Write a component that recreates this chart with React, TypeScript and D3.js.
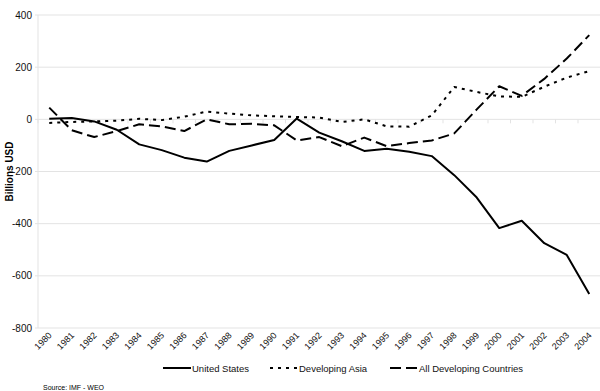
import React, { useEffect, useRef } from 'react';
import * as d3 from 'd3';

const years = d3.range(1980, 2005).map(String);
const unitedStates = [2, 5, -8, -40, -96, -118, -147, -162, -121, -100, -79, 3, -51, -84, -121, -113, -124, -141, -214, -300, -417, -389, -475, -520, -670];
const developingAsia = [-14, -10, -8, -5, 2, -3, 10, 30, 22, 15, 12, 9, 7, -10, 0, -27, -28, 15, 124, 105, 88, 86, 125, 160, 185];
const allDeveloping = [45, -42, -68, -45, -19, -27, -45, 0, -19, -17, -23, -81, -68, -103, -70, -103, -91, -81, -54, 38, 127, 90, 155, 233, 323];
const yTicks = [400, 200, 0, -200, -400, -600, -800];

const series = [
  { name: 'United States', values: unitedStates, dash: null },
  { name: 'Developing Asia', values: developingAsia, dash: '3,5' },
  { name: 'All Developing Countries', values: allDeveloping, dash: '11,5' },
];

const App = () => {
  const ref = useRef<SVGSVGElement>(null);

  useEffect(() => {
    const svg = d3.select(ref.current);
    svg.selectAll('*').remove();
    const font = '"Liberation Sans", Arial, sans-serif';

    const left = 38;
    const right = 600.5;
    const top = 15;
    const bottom = 328;

    const x = d3.scaleBand().domain(years).range([left, right]);
    const y = d3.scaleLinear().domain([-800, 400]).range([bottom, top]);

    // gridlines
    svg.append('g')
      .selectAll('line')
      .data(yTicks)
      .enter().append('line')
      .attr('x1', left)
      .attr('x2', right)
      .attr('y1', d => y(d))
      .attr('y2', d => y(d))
      .attr('stroke', '#e3e3e3')
      .attr('stroke-width', 1);

    // y axis line
    svg.append('line')
      .attr('x1', left).attr('x2', left)
      .attr('y1', top).attr('y2', bottom)
      .attr('stroke', '#e3e3e3');

    // y tick marks + labels
    const yAxis = svg.append('g');
    yAxis.selectAll('line')
      .data(yTicks)
      .enter().append('line')
      .attr('x1', left - 3).attr('x2', left)
      .attr('y1', d => y(d)).attr('y2', d => y(d))
      .attr('stroke', '#e3e3e3');
    yAxis.selectAll('text')
      .data(yTicks)
      .enter().append('text')
      .attr('x', left - 6)
      .attr('y', d => y(d) + 3.5)
      .attr('text-anchor', 'end')
      .attr('font-family', font)
      .attr('font-size', 10)
      .attr('fill', '#111')
      .text(d => d);

    // category tick marks on zero line
    svg.append('g')
      .selectAll('line')
      .data(years.concat(['end']))
      .enter().append('line')
      .attr('x1', (d, i) => left + i * x.bandwidth())
      .attr('x2', (d, i) => left + i * x.bandwidth())
      .attr('y1', y(0))
      .attr('y2', y(0) + 4)
      .attr('stroke', '#e3e3e3');

    // x labels
    svg.append('g')
      .selectAll('text')
      .data(years)
      .enter().append('text')
      .attr('transform', d => `translate(${x(d)! + x.bandwidth() / 2 + 3},${bottom + 8}) rotate(-45)`)
      .attr('text-anchor', 'end')
      .attr('font-family', font)
      .attr('font-size', 9)
      .attr('fill', '#111')
      .text(d => d);

    // y axis title
    svg.append('text')
      .attr('transform', `translate(13,${(top + bottom) / 2}) rotate(-90)`)
      .attr('text-anchor', 'middle')
      .attr('font-family', font)
      .attr('font-size', 10)
      .attr('font-weight', 'bold')
      .text('Billions USD');

    // lines
    const line = d3.line<number>()
      .x((d, i) => x(years[i])! + x.bandwidth() / 2)
      .y(d => y(d));

    series.forEach(s => {
      svg.append('path')
        .datum(s.values)
        .attr('d', line)
        .attr('fill', 'none')
        .attr('stroke', '#000')
        .attr('stroke-width', 2)
        .attr('stroke-dasharray', s.dash)
        .attr('stroke-linejoin', 'round');
    });

    // legend
    const legendX = [163, 270, 390];
    const legendY = 368;
    series.forEach((s, i) => {
      svg.append('line')
        .attr('x1', legendX[i]).attr('x2', legendX[i] + 28)
        .attr('y1', legendY).attr('y2', legendY)
        .attr('stroke', '#000')
        .attr('stroke-width', 2)
        .attr('stroke-dasharray', s.dash);
      svg.append('text')
        .attr('x', legendX[i] + 29)
        .attr('y', legendY + 3.5)
        .attr('font-family', font)
        .attr('font-size', 9.5)
        .attr('fill', '#111')
        .text(s.name);
    });

    // source
    svg.append('text')
      .attr('x', 43)
      .attr('y', 390)
      .attr('font-family', font)
      .attr('font-size', 7)
      .text('Source: IMF - WEO');
  }, []);

  return (
    <svg
      ref={ref}
      width={600}
      height={391}
      style={{ position: 'absolute', left: 0, top: 0, background: '#fff' }}
    />
  );
};

export default App;
